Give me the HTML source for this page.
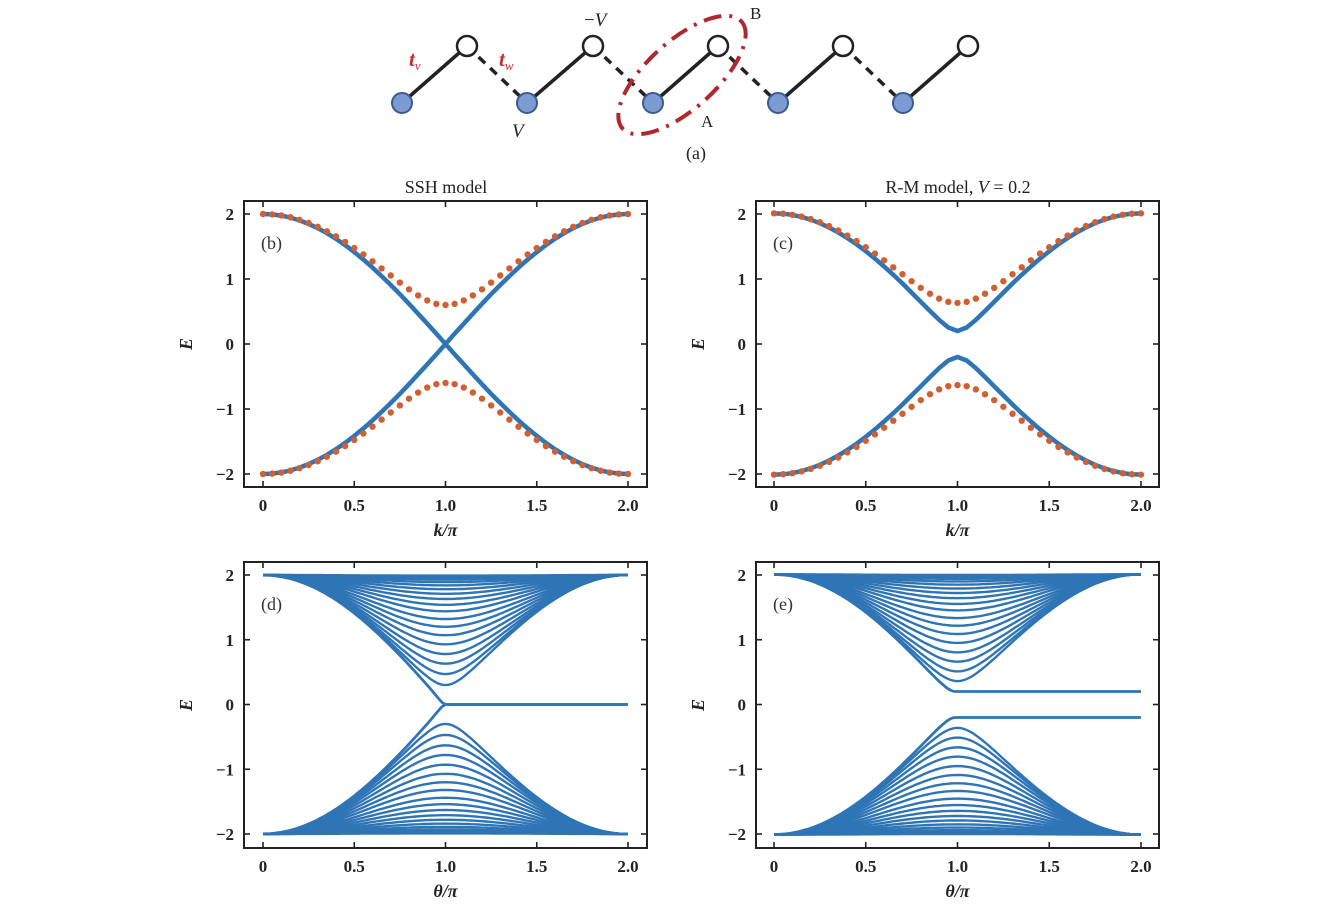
<!DOCTYPE html>
<html><head><meta charset="utf-8"><style>
body{margin:0;background:#fff;}
svg{display:block;font-family:"Liberation Serif",serif;}
</style></head><body>
<svg id="fig" width="1339" height="909" viewBox="0 0 1339 909"></svg>
<script>
// ---- data ----
const kGrid = [0,0.05,0.1,0.15,0.2,0.25,0.3,0.35,0.4,0.45,0.5,0.55,0.6,0.65,0.7,0.75,0.8,0.85,0.9,0.95,1.0];
const sshBand = [2,1.9938,1.9754,1.945,1.9021,1.8478,1.782,1.7053,1.618,1.5208,1.4142,1.2989,1.1756,1.0453,0.908,0.7654,0.618,0.4669,0.3129,0.1569,0];
const sshDots = [2,1.994,1.978,1.95,1.911,1.862,1.803,1.734,1.656,1.57,1.476,1.377,1.272,1.163,1.054,0.945,0.841,0.747,0.67,0.618,0.6];
const rmBand = [2.01,2.004,1.986,1.955,1.913,1.859,1.793,1.717,1.63,1.534,1.428,1.314,1.192,1.064,0.93,0.791,0.65,0.508,0.372,0.254,0.2];
const rmDots = [2.01,2.004,1.988,1.96,1.921,1.873,1.814,1.746,1.668,1.583,1.489,1.391,1.288,1.18,1.073,0.966,0.864,0.773,0.698,0.649,0.632];
const bandMinima = [0.30,0.47,0.63,0.78,0.93,1.07,1.2,1.32,1.44,1.54,1.63,1.71,1.78,1.84,1.89,1.93,1.96,1.99];
const edgeGap = [0, 0.2];
const xTicks = [0,0.5,1.0,1.5,2.0];
const xTickLabels = ["0","0.5","1.0","1.5","2.0"];
const yTicks = [2,1,0,-1,-2];
const yTickLabels = ["2","1","0","\u22121","\u22122"];

const NS="http://www.w3.org/2000/svg";
const svg=document.getElementById('fig');
function mk(tag,attrs,parent){const e=document.createElementNS(NS,tag);for(const k in attrs)e.setAttribute(k,attrs[k]);(parent||svg).appendChild(e);return e;}
const BLUE="#2f75b5", ORANGE="#d05f32";

const panels=[
 {id:'b',bx:244,by:201,bw:403,bh:286,x0:263,x2:628,y2:214,ym2:474,xl:"k"},
 {id:'c',bx:756,by:201,bw:403,bh:286,x0:774,x2:1141,y2:214,ym2:474,xl:"k"},
 {id:'d',bx:244,by:562,bw:403,bh:286,x0:263,x2:628,y2:575,ym2:834,xl:"θ"},
 {id:'e',bx:756,by:562,bw:403,bh:286,x0:774,x2:1141,y2:575,ym2:834,xl:"θ"}
];
panels.forEach(p=>{p.sx=v=>p.x0+(p.x2-p.x0)*v/2;p.sy=v=>p.ym2+(p.y2-p.ym2)*(v+2)/4;});

function fullK(){const a=kGrid.slice();for(let i=kGrid.length-2;i>=0;i--)a.push(2-kGrid[i]);return a;}
function fullV(arr){const a=arr.slice();for(let i=arr.length-2;i>=0;i--)a.push(arr[i]);return a;}

function drawAxes(p,g){
  mk('rect',{x:p.bx,y:p.by,width:p.bw,height:p.bh,fill:'none',stroke:'#222','stroke-width':2},g);
  xTicks.forEach((t,i)=>{
    const x=p.sx(t);
    mk('line',{x1:x,y1:p.by+p.bh,x2:x,y2:p.by+p.bh-6,stroke:'#222','stroke-width':1.6},g);
    mk('line',{x1:x,y1:p.by,x2:x,y2:p.by+6,stroke:'#222','stroke-width':1.6},g);
    const tx=mk('text',{x:x,y:p.by+p.bh+24,'font-size':17,'font-weight':'bold','text-anchor':'middle',fill:'#222'},g);
    tx.textContent=xTickLabels[i];
    
    
  });
  yTicks.forEach((t,i)=>{
    const y=p.sy(t);
    mk('line',{x1:p.bx,y1:y,x2:p.bx+6,y2:y,stroke:'#222','stroke-width':1.6},g);
    mk('line',{x1:p.bx+p.bw,y1:y,x2:p.bx+p.bw-6,y2:y,stroke:'#222','stroke-width':1.6},g);
    const tx=mk('text',{x:p.bx-10,y:y+6,'font-size':17,'font-weight':'bold','text-anchor':'end',fill:'#222'},g);
    tx.textContent=yTickLabels[i];
    
    
  });
  const xl=mk('text',{x:p.bx+p.bw/2,y:p.by+p.bh+49,'font-size':18,'text-anchor':'middle',fill:'#222','font-style':'italic','font-weight':'bold'},g);
  xl.textContent=p.xl+"/π";
  
  
  const cy=p.by+p.bh/2;
  const yl=mk('text',{x:p.bx-52,y:cy,'font-size':18,'text-anchor':'middle',fill:'#222','font-style':'italic','font-weight':'bold',transform:`rotate(-90 ${p.bx-52} ${cy})`},g);
  yl.textContent="E";
  
  
  const pl=mk('text',{x:p.bx+17,y:p.by+p.bh*0.16+2,'font-size':18,fill:'#333'},g);
  pl.textContent="("+p.id+")";
  
  
}

function bandPanel(p,band,dots){
  const g=mk('g',{});
  
  
  drawAxes(p,g);
  const ks=fullK(), bv=fullV(band), dv=fullV(dots);
  [1,-1].forEach(s=>{
    let d="";
    ks.forEach((k,i)=>{d+=(i?"L":"M")+p.sx(k).toFixed(1)+","+p.sy(s*bv[i]).toFixed(1);});
    const path=mk('path',{d:d,fill:'none',stroke:BLUE,'stroke-width':4.5,'stroke-linejoin':'round'},g);
    
    
    ks.forEach((k,i)=>{
      const c=mk('circle',{cx:p.sx(k),cy:p.sy(s*dv[i]),r:3.2,fill:ORANGE},g);
      
      
    });
  });
}
bandPanel(panels[0],sshBand,sshDots);
bandPanel(panels[1],rmBand,rmDots);

function finitePanel(p,V){
  const g=mk('g',{});
  
  
  drawAxes(p,g);
  const N=100;
  function curve(m,edge,s){
    let d="";
    for(let j=0;j<=N;j++){
      const th=2*j/N, C=Math.cos(Math.PI*th/2), S2=1-C*C;
      let E;
      if(edge){const a=th<1?2*Math.abs(C):0;E=a*a/Math.sqrt(a*a+0.01);}
      else{const c=m*m/2-1;E=Math.sqrt(Math.max(0,2+2*C*C+2*S2*c));}
      E=Math.sqrt(E*E+V*V);
      d+=(j?"L":"M")+p.sx(th).toFixed(1)+","+p.sy(s*E).toFixed(1);
    }
    return d;
  }
  [1,-1].forEach(s=>{
    bandMinima.forEach(m=>{
      const path=mk('path',{d:curve(m,false,s),fill:'none',stroke:BLUE,'stroke-width':2.4},g);
      
      
    });
    const e=mk('path',{d:curve(0,true,s),fill:'none',stroke:BLUE,'stroke-width':2.8},g);
    
    
  });
}
finitePanel(panels[2],edgeGap[0]);
finitePanel(panels[3],edgeGap[1]);

// titles
let t=mk('text',{x:446,y:193,'font-size':18,'text-anchor':'middle',fill:'#222'});
t.textContent="SSH model";


t=mk('text',{x:958,y:193,'font-size':18,'text-anchor':'middle',fill:'#222'});
t.innerHTML='R-M model, <tspan font-style="italic">V</tspan> = 0.2';



// diagram (a)
const dg=mk('g',{});


const whites=[467,593,718,843,968], blues=[402,527,653,778,903];
for(let i=0;i<5;i++){
  mk('line',{x1:blues[i],y1:103,x2:whites[i],y2:46,stroke:'#222','stroke-width':3.5},dg);
  if(i<4) mk('line',{x1:whites[i],y1:46,x2:blues[i+1],y2:103,stroke:'#222','stroke-width':3.5,'stroke-dasharray':'9,7'},dg);
}
mk('ellipse',{cx:682,cy:75,rx:80,ry:34,fill:'none',stroke:'#b0282e','stroke-width':4,'stroke-dasharray':'18,8,3,8',transform:'rotate(-42 682 75)'},dg);
whites.forEach(x=>{const c=mk('circle',{cx:x,cy:46,r:10,fill:'#fff',stroke:'#222','stroke-width':2.5},dg);});
blues.forEach(x=>{const c=mk('circle',{cx:x,cy:103,r:10,fill:'#7b9bd2',stroke:'#3b5a90','stroke-width':2},dg);});
function lab(x,y,html,name,extra){const e=mk('text',Object.assign({x:x,y:y,'font-size':19,fill:'#222'},extra||{}),dg);e.innerHTML=html;}
lab(409,66,'<tspan font-style="italic" font-weight="bold" font-size="21">t</tspan><tspan font-size="13" dy="4" font-style="italic">v</tspan>','label-tv',{fill:'#c0302e'});
lab(499,66,'<tspan font-style="italic" font-weight="bold" font-size="21">t</tspan><tspan font-size="13" dy="4" font-style="italic">w</tspan>','label-tw',{fill:'#c0302e'});
lab(512,137,'<tspan font-style="italic">V</tspan>','label-v');
lab(584,26,'−<tspan font-style="italic">V</tspan>','label-minus-v');
lab(750,19,'B','label-b',{'font-size':17});
lab(701,127,'A','label-a',{'font-size':17});
lab(686,159,'(a)','label-a-panel',{'font-size':18});
</script>
</body></html>
